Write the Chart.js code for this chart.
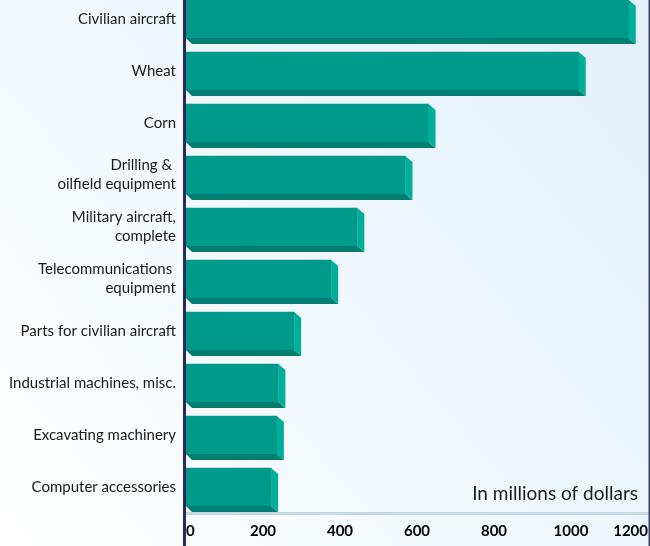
<!DOCTYPE html>
<html>
<head>
<meta charset="utf-8">
<style>
  html, body { margin: 0; padding: 0; background: #ffffff; overflow: hidden; }
  #wrap { width: 650px; height: 546px; position: relative; overflow: hidden; }
  #c { position: absolute; left: 0; top: -7px; }
</style>
<script src="https://cdn.jsdelivr.net/npm/chart.js@4/dist/chart.umd.min.js"></script>
</head>
<body>
<div id="wrap"><canvas id="c" width="650" height="553"></canvas></div>
<script>
// Export categories (multi-line labels are arrays of lines)
const categories = [
  'Civilian aircraft',
  'Wheat',
  'Corn',
  ['Drilling & ', 'oilfield equipment'],
  ['Military aircraft,', 'complete'],
  ['Telecommunications ', 'equipment'],
  'Parts for civilian aircraft',
  'Industrial machines, misc.',
  'Excavating machinery',
  'Computer accessories'
];
// Export value, in millions of dollars
const exportValues = [1150, 1020, 630, 570, 445, 377, 281, 240, 236, 221];
// Values shown along the horizontal axis
const tickValues = [0, 200, 400, 600, 800, 1000, 1200];
const unitNote = 'In millions of dollars';

const FACE = '#009a8b';
const BOTTOM = '#007f71';
const SIDE = '#00ae99';
const DEPTH_X = 7, DEPTH_Y = 6;

// Soft blue wash behind everything
const backdrop = {
  id: 'backdrop',
  beforeDraw(chart) {
    const { ctx, width, height } = chart;
    const g = ctx.createLinearGradient(0, height, width, 0);
    g.addColorStop(0, '#ffffff');
    g.addColorStop(0.4, '#f2f9fd');
    g.addColorStop(1, '#e2f0fb');
    ctx.save();
    ctx.fillStyle = g;
    ctx.fillRect(0, 0, width, height);
    ctx.restore();
  }
};

// Extruded bottom and right faces give each bar its slab look
const slab = {
  id: 'slab',
  afterDatasetsDraw(chart) {
    const { ctx } = chart;
    const meta = chart.getDatasetMeta(0);
    ctx.save();
    meta.data.forEach(bar => {
      const { x, y, base, height } = bar.getProps(['x', 'y', 'base', 'height'], true);
      const top = y - height / 2, bottom = y + height / 2;
      ctx.fillStyle = BOTTOM;
      ctx.beginPath();
      ctx.moveTo(base, bottom);
      ctx.lineTo(x, bottom);
      ctx.lineTo(x + DEPTH_X, bottom + DEPTH_Y);
      ctx.lineTo(base + DEPTH_Y, bottom + DEPTH_Y);
      ctx.closePath();
      ctx.fill();
      ctx.fillStyle = SIDE;
      ctx.beginPath();
      ctx.moveTo(x, top);
      ctx.lineTo(x + DEPTH_X, top + DEPTH_Y);
      ctx.lineTo(x + DEPTH_X, bottom + DEPTH_Y);
      ctx.lineTo(x, bottom);
      ctx.closePath();
      ctx.fill();
    });
    ctx.restore();
  }
};

// Dark left rule, thin right edge and the unit note
const frame = {
  id: 'frame',
  afterDraw(chart) {
    const { ctx, chartArea, width, height } = chart;
    ctx.save();
    ctx.fillStyle = '#272b5c';
    ctx.fillRect(chartArea.left - 3, 0, 3, height);
    ctx.fillStyle = '#3a3f6e';
    ctx.fillRect(width - 1.5, 0, 1.5, height);
    ctx.fillStyle = '#1c1c1c';
    ctx.font = '19px Lato, "Open Sans", sans-serif';
    ctx.textAlign = 'right';
    ctx.textBaseline = 'middle';
    ctx.fillText(unitNote, chartArea.right - 10, chartArea.bottom - 19);
    ctx.restore();
  }
};

new Chart(document.getElementById('c'), {
  type: 'bar',
  data: {
    labels: categories,
    datasets: [{
      data: exportValues,
      backgroundColor: FACE,
      borderWidth: 0,
      barThickness: 38
    }]
  },
  options: {
    indexAxis: 'y',
    responsive: false,
    animation: false,
    events: [],
    layout: { padding: { top: 0, right: 2, left: 0, bottom: 0 } },
    plugins: { legend: { display: false }, tooltip: { enabled: false } },
    scales: {
      x: {
        min: 0,
        max: 1200,
        afterBuildTicks(scale) { scale.ticks = tickValues.map(v => ({ value: v })); },
        afterFit(scale) {
          scale.height = 33;
          scale.paddingLeft = 0;
          scale.paddingRight = 0;
        },
        grid: { display: false, drawTicks: false },
        border: { display: true, color: '#c3dbe9', width: 3 },
        ticks: {
          align: 'inner',
          padding: 9,
          color: '#000000',
          maxRotation: 0,
          autoSkip: false,
          callback: v => String(v),
          font: { family: 'Lato, "Open Sans", sans-serif', size: 15, weight: 'bold' }
        }
      },
      y: {
        afterFit(scale) {
          scale.width = 186;
          scale.paddingTop = 0;
          scale.paddingBottom = 0;
        },
        grid: { display: false, drawTicks: false },
        border: { display: false },
        ticks: {
          padding: 10,
          color: '#1a1a1a',
          autoSkip: false,
          font: { family: 'Lato, "Open Sans", sans-serif', size: 15, lineHeight: 1.25 }
        }
      }
    }
  },
  plugins: [backdrop, slab, frame]
});
</script>
</body>
</html>
